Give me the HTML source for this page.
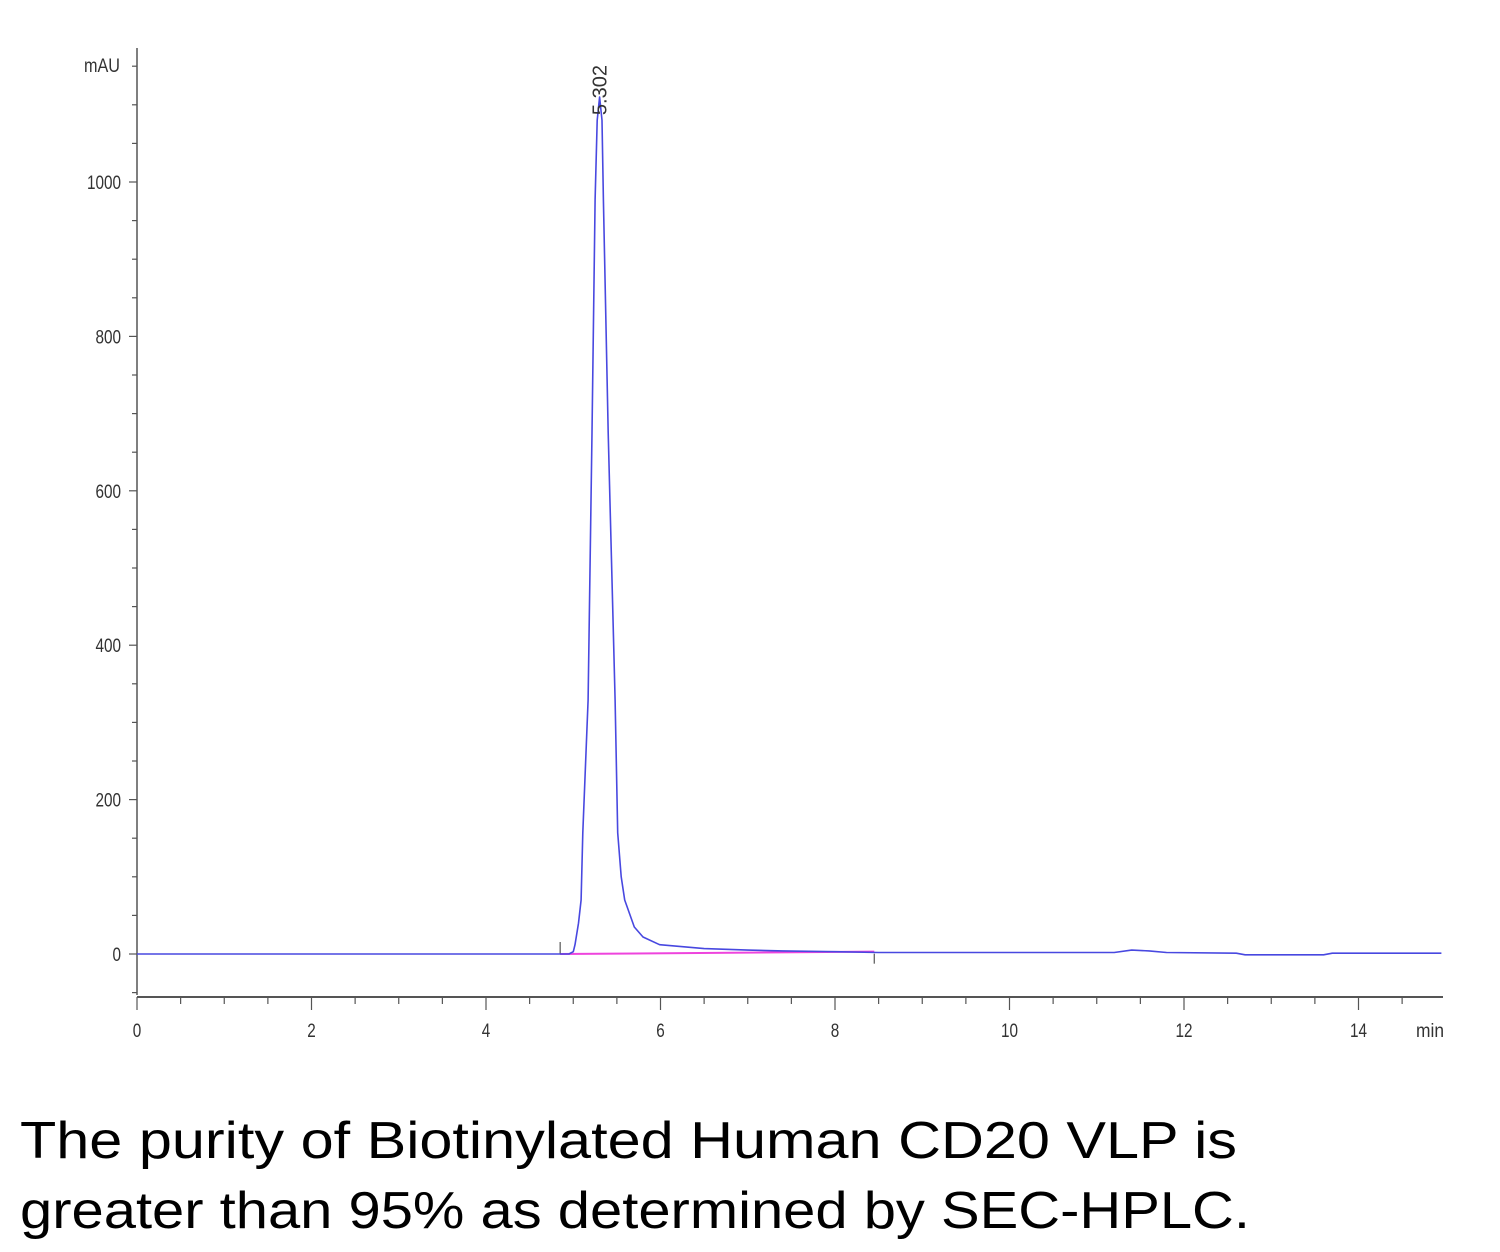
<!DOCTYPE html>
<html><head><meta charset="utf-8"><style>body{margin:0;background:#fff}svg{display:block}</style></head>
<body>
<svg id="chart" width="1500" height="1252" xmlns="http://www.w3.org/2000/svg" font-family="Liberation Sans, sans-serif">
<g id="axes"></g>
<g id="series"></g>
<text x="20" y="1158" font-size="52" textLength="1217" lengthAdjust="spacingAndGlyphs" fill="#000">The purity of Biotinylated Human CD20 VLP is</text>
<text x="20" y="1228" font-size="52" textLength="1230" lengthAdjust="spacingAndGlyphs" fill="#000">greater than 95% as determined by SEC-HPLC.</text>
</svg>
<script>
const times=[0,4.8,4.95,5.0,5.02,5.06,5.09,5.11,5.17,5.215,5.25,5.275,5.302,5.33,5.345,5.40,5.48,5.51,5.55,5.59,5.7,5.8,5.99,6.5,7.0,7.4,8.0,8.5,11.2,11.4,11.6,11.8,12.6,12.7,13.6,13.7,14.0,14.95];
const absorb=[0,0,0,3,12,40,70,157,329,675,977,1080,1110,1080,977,675,329,157,100,70,35,22,12,7,5,4,3,2,2,5,4,2,1,-1,-1,1,1,1];
const baseT=[4.85,8.45];
const baseV=[0,3];
const xTicks=[0,2,4,6,8,10,12,14];
const yTicks=[0,200,400,600,800,1000];
const peakLabel="5.302";
const peakTime=5.302;
const NS="http://www.w3.org/2000/svg";
const X=t=>137+t*87.25;
const Y=v=>954-v*0.772;
const ax=document.getElementById('axes'),se=document.getElementById('series');
function mk(p,tag,at){const e=document.createElementNS(NS,tag);for(const k in at)e.setAttribute(k,at[k]);p.appendChild(e);return e;}
let e=mk(ax,'line',{x1:137,y1:48,x2:137,y2:995,stroke:'#555','stroke-width':1.5});


e=mk(ax,'line',{x1:137,y1:997,x2:1443,y2:997,stroke:'#555','stroke-width':2});


for(let v=-50;v<=1150;v+=50){const y=Y(v);if(y<50)continue;const maj=v%200===0;mk(ax,'line',{x1:maj?129:132,y1:y,x2:137,y2:y,stroke:'#555','stroke-width':1.2});}
yTicks.forEach(v=>{const s=String(v);const t=mk(ax,'text',{x:121,y:Y(v)+7,'text-anchor':'end','font-size':19,fill:'#333',textLength:s.length*8.5,lengthAdjust:'spacingAndGlyphs'});t.textContent=s;

});
for(let t=0.5;t<=14.9;t+=0.5){const maj=Math.abs(t%2)<1e-6;mk(ax,'line',{x1:X(t),y1:997,x2:X(t),y2:maj?1010:1004,stroke:'#555','stroke-width':1.2});}
mk(ax,'line',{x1:137,y1:997,x2:137,y2:1010,stroke:'#555','stroke-width':1.2});
xTicks.forEach(v=>{const s=String(v);const t=mk(ax,'text',{x:X(v),y:1037,'text-anchor':'middle','font-size':19,fill:'#333',textLength:s.length*8.5,lengthAdjust:'spacingAndGlyphs'});t.textContent=s;

});
e=mk(ax,'text',{x:1430,y:1037,'text-anchor':'middle','font-size':19,fill:'#333',textLength:28,lengthAdjust:'spacingAndGlyphs'});e.textContent='min';


e=mk(ax,'text',{x:102,y:72,'text-anchor':'middle','font-size':19,fill:'#333',textLength:36,lengthAdjust:'spacingAndGlyphs'});e.textContent='mAU';


e=mk(se,'polyline',{points:baseT.map((t,i)=>X(t)+','+Y(baseV[i])).join(' '),fill:'none',stroke:'#ee44dd','stroke-width':2});


baseT.forEach((t,i)=>{const m=mk(se,'line',{x1:X(t),y1:Y(baseV[i])+(i?2:-12),x2:X(t),y2:Y(baseV[i])+(i?12:0),stroke:'#555','stroke-width':1.2});

});
e=mk(se,'polyline',{points:times.map((t,i)=>X(t).toFixed(1)+','+Y(absorb[i]).toFixed(1)).join(' '),fill:'none',stroke:'#4848e0','stroke-width':1.6,'stroke-linejoin':'round'});


e=mk(se,'text',{x:0,y:0,'font-size':20,fill:'#333',transform:`translate(${X(peakTime)+7},${Y(1110)+18}) rotate(-90)`});e.textContent=peakLabel;


</script>
</body></html>
